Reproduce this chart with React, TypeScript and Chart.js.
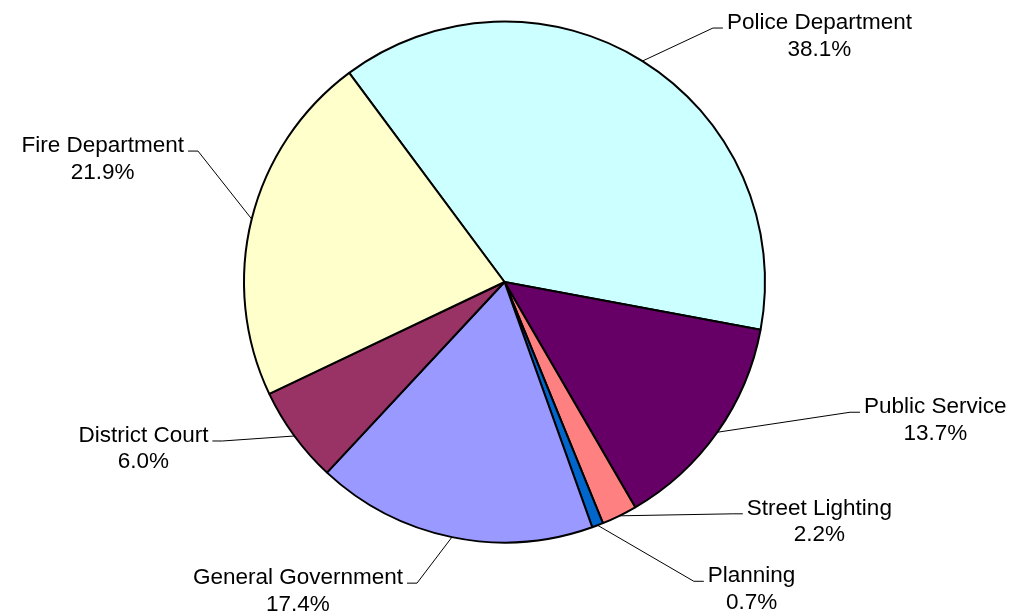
import React, { useEffect, useRef } from "react";
import { Chart, registerables } from "chart.js";

Chart.register(...registerables);

const categories = [
  "Police Department",
  "Public Service",
  "Street Lighting",
  "Planning",
  "General Government",
  "District Court",
  "Fire Department",
];
const shares = [38.1, 13.7, 2.2, 0.7, 17.4, 6.0, 21.9];
const sliceColors = [
  "#CCFFFF",
  "#660066",
  "#FF8080",
  "#0066CC",
  "#9999FF",
  "#993366",
  "#FFFFCC",
];
// label text anchor (centre x, first-line baseline) relative to the slice's outer edge point
const labelOffsets: [number, number][] = [
  [177, -32],
  [218, -19],
  [200, -1],
  [154, 57],
  [-154, 47],
  [-151, 6],
  [-149, -67],
];

const FONT = "22.5px 'Liberation Sans', Arial, sans-serif";
const LINE_GAP = 26.5;

const labelPlugin = {
  id: "outsideLabels",
  afterDatasetsDraw(chart: any) {
    const ctx = chart.ctx as CanvasRenderingContext2D;
    const meta = chart.getDatasetMeta(0);
    const data = chart.data.datasets[0].data as number[];
    const total = data.reduce((a, b) => a + b, 0);
    ctx.save();
    ctx.font = FONT;
    ctx.fillStyle = "#000";
    ctx.strokeStyle = "#000";
    ctx.lineWidth = 1;
    ctx.textBaseline = "alphabetic";
    ctx.textAlign = "center";
    meta.data.forEach((arc: any, i: number) => {
      const p = arc.getProps(["x", "y", "startAngle", "endAngle", "outerRadius"], true);
      const mid = (p.startAngle + p.endAngle) / 2;
      const ex = p.x + Math.cos(mid) * p.outerRadius;
      const ey = p.y + Math.sin(mid) * p.outerRadius;
      const [dx, dy] = labelOffsets[i];
      const cx = ex + dx;
      const by = ey + dy;
      const name = chart.data.labels[i] as string;
      const pct = ((data[i] / total) * 100).toFixed(1) + "%";
      const w = ctx.measureText(name).width;
      const right = dx > 0;
      const endX = right ? cx - w / 2 - 4 : cx + w / 2 + 4;
      const elbowX = right ? endX - 10 : endX + 10;
      const ly = by - 1;
      ctx.beginPath();
      ctx.moveTo(ex, ey);
      ctx.lineTo(elbowX, ly);
      ctx.lineTo(endX, ly);
      ctx.stroke();
      ctx.fillText(name, cx, by);
      ctx.fillText(pct, cx, by + LINE_GAP);
    });
    ctx.restore();
  },
};

export default function App() {
  const ref = useRef<HTMLCanvasElement>(null);
  useEffect(() => {
    document.body.style.margin = "0";
    const chart = new Chart(ref.current!, {
      type: "pie",
      data: {
        labels: categories,
        datasets: [
          {
            data: shares,
            backgroundColor: sliceColors,
            borderColor: "#000000",
            borderWidth: 2,
          },
        ],
      },
      options: {
        animation: false,
        responsive: true,
        maintainAspectRatio: false,
        rotation: -36.6,
        layout: { padding: { left: 243, right: 265, top: 20, bottom: 72 } },
        plugins: {
          legend: { display: false },
          tooltip: { enabled: false },
        },
      },
      plugins: [labelPlugin],
    });
    return () => chart.destroy();
  }, []);
  return (
    <div style={{ width: 1031, height: 616, position: "relative", background: "#fff" }}>
      <canvas ref={ref} />
    </div>
  );
}
